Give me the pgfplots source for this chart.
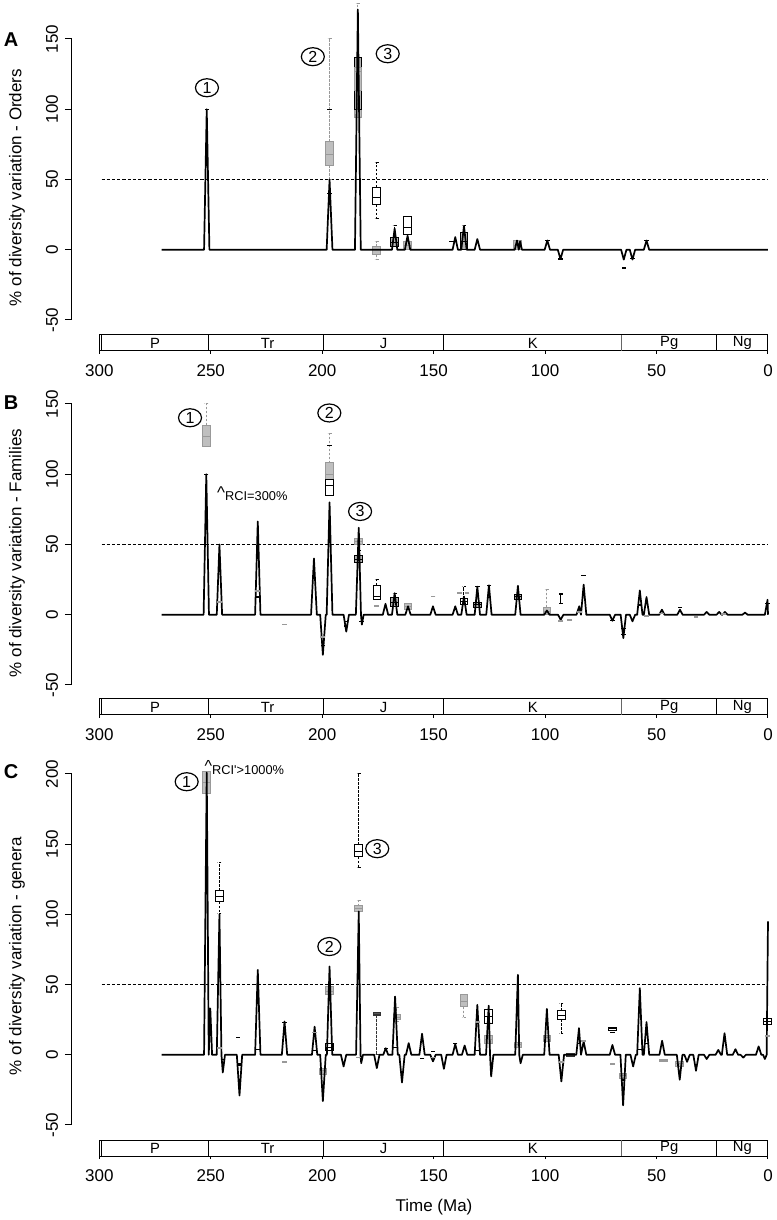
\documentclass[border=0pt]{standalone}
\usepackage{fontspec}
\setmainfont{Liberation Sans}
\usepackage{pgfplots}
\pgfplotsset{compat=1.18}
\usepgfplotslibrary{statistics}
\usetikzlibrary{shapes.geometric}

\newcommand\tk{\fontsize{8.5}{9.5}\selectfont}
\newcommand\ps{\fontsize{7.4}{8}\selectfont}
\newcommand\bx[7]{\addplot[#1, boxplot prepared={draw position=#2, lower whisker=#3, lower quartile=#4, median=#5, upper quartile=#6, upper whisker=#7}] coordinates {};}
\newcommand\cl[3]{\node[draw, ellipse, minimum width=11.5pt, minimum height=9pt, inner sep=0pt, line width=0.6pt, font=\fontsize{8}{8}\selectfont] at (axis cs:#1,#2) {#3};}
\newcommand\tsbar{%
 \draw[line width=0.5pt] (axis cs:299,0)--(axis cs:299,1);
 \draw[line width=0.5pt] (axis cs:251,0)--(axis cs:251,1);
 \draw[line width=0.5pt] (axis cs:199.6,0)--(axis cs:199.6,1);
 \draw[line width=0.5pt] (axis cs:145.5,0)--(axis cs:145.5,1);
 \draw[line width=0.5pt, black!60] (axis cs:65.5,0)--(axis cs:65.5,1);
 \draw[line width=0.5pt] (axis cs:23,0)--(axis cs:23,1);
 \node[font=\ps] at (axis cs:275,0.5) {P};
 \node[font=\ps] at (axis cs:224.5,0.5) {Tr};
 \node[font=\ps] at (axis cs:172.5,0.5) {J};
 \node[font=\ps] at (axis cs:105.5,0.5) {K};
 \node[font=\ps] at (axis cs:44.3,0.5) {Pg};
 \node[font=\ps] at (axis cs:11.5,0.5) {Ng};
}

\pgfplotsset{
 boxbase/.style={line width=0.5pt, boxplot/draw direction=y, boxplot/box extend=3.4, boxplot/whisker extend=1.8,
   boxplot/every whisker/.style={dash pattern=on 1.2pt off 0.8pt}},
 gbox/.style={boxbase, draw=black!40, fill=black!25},
 wbox/.style={boxbase, draw=black, fill=white},
 dbox/.style={boxbase, draw=black, fill=black!30},
 kbox/.style={boxbase, draw=black!80, fill=black!65},
 mainax/.style={scale only axis, width=348pt, xmin=0, xmax=312.25, x dir=reverse,
   hide x axis, axis y line*=left, clip=false, tick align=outside, major tick length=3.5pt,
   yticklabel style={rotate=90, anchor=south, font=\tk},
   /pgf/number format/assume math mode=true,
   axis line style={line width=0.5pt}, tick style={black, line width=0.5pt}, anchor=south west},
 tsax/.style={scale only axis, width=334.35pt, height=8pt, xmin=0, xmax=300, x dir=reverse,
   ymin=0, ymax=1, ytick=\empty, xtick={0,50,...,300}, xtick pos=left, tick align=outside,
   major tick length=1.5pt, xticklabel style={font=\tk, yshift=-1.6pt},
   /pgf/number format/assume math mode=true,
   axis line style={line width=0.5pt}, tick style={black, line width=0.5pt}, clip=false, anchor=south west},
 spk/.style={black, line width=0.85pt, line join=round},
 thr/.style={black, line width=0.6pt, dash pattern=on 1.6pt off 1pt},
 bm/.style={only marks, mark=-, mark size=1.1pt, mark options={black, line width=0.6pt}},
 gm/.style={only marks, mark=-, mark size=1.2pt, mark options={black!40, line width=0.8pt}},
}

\begin{document}
\begin{tikzpicture}
\path[use as bounding box] (0,0) rectangle (388pt,610pt);

% ---------------- Panel A ----------------
\begin{axis}[mainax, at={(36pt,450pt)}, height=140.5pt, ymin=-50, ymax=150, ytick={-50,0,50,100,150}]
\addplot[thr] coordinates {(299,50) (0,50)};
\bx{gbox}{196.7}{50}{60}{68}{77}{150}
\bx{gbox}{184}{94}{94}{113}{130}{175}
\bx{dbox}{184}{100}{100}{113}{137}{137}
\bx{gbox}{184}{100}{113}{127}{130}{130}
\bx{wbox}{175.6}{22}{32}{37}{44.4}{62}
\bx{gbox}{175.6}{-6.6}{-3.6}{0}{2.3}{6}
\bx{dbox}{167.5}{2}{2}{5}{8.5}{17.6}
\bx{gbox}{161.7}{0}{0}{3}{5.7}{5.7}
\bx{wbox}{161.7}{10.7}{10.7}{16}{23.7}{23.7}
\bx{dbox}{136.4}{0}{0}{6}{12.3}{17}
\bx{gbox}{112.4}{0}{0}{3}{6.6}{6.6}
\addplot[spk] coordinates {
(272,0)(253,0)(251.8,100)(250.6,0)
(198,0)(196.7,50)(195.4,0)
(185.3,0)(184,171)(182.7,0)
(168.7,0)(167.5,15)(166.3,0)
(162.9,0)(161.7,10)(160.5,0)
(141.5,0)(140.3,9)(139.1,0)
(137.6,0)(136.4,17)(135.2,0)
(131.6,0)(130.4,7.6)(129.2,0)
(113.6,0)(112.6,6.6)(111.8,0)(111.2,6)(110.4,0)
(100.2,0)(99,6.6)(97.8,0)
(94.3,0)(93.1,-6.6)(91.9,0)
(65.9,0)(64.7,-7)(63.5,0)
(62,0)(60.8,-7)(59.6,0)
(55.7,0)(54.5,6.6)(53.3,0)
(0,0)};
\addplot[bm] coordinates {(251.8,100)(196.7,100)(196.7,40)(140.3,6)(99,6.6)(93.1,-6.6)(64.7,-13)(60.8,-6)(54.5,6.6)(142,6)};
\cl{251.7}{115.3}{1}
\cl{204.2}{137.4}{2}
\cl{170.6}{139.5}{3}
\end{axis}
\begin{axis}[tsax, at={(49.65pt,434.5pt)}]
\tsbar
\end{axis}

% ---------------- Panel B ----------------
\begin{axis}[mainax, at={(36pt,267.5pt)}, height=140.5pt, ymin=-50, ymax=150, ytick={-50,0,50,100,150}]
\addplot[thr] coordinates {(299,50) (0,50)};
\bx{gbox}{252}{120}{120}{127}{135}{150.5}
\bx{gbox}{196.7}{96}{96}{100}{108}{129}
\bx{wbox}{196.7}{85}{85}{92}{96}{96}
\bx{gbox}{183.6}{50}{50}{52}{54}{54}
\bx{dbox}{183.6}{37}{37}{39.5}{42}{42}
\bx{wbox}{175.5}{11}{11}{13}{21}{25}
\bx{dbox}{167.5}{6}{6}{9}{12}{15.4}
\bx{gbox}{161.5}{4}{4}{6}{8.3}{8.3}
\bx{wbox}{136.4}{7.6}{7.6}{9.5}{11.4}{20}
\bx{dbox}{130.4}{4.8}{4.8}{7}{9}{9}
\bx{dbox}{112.2}{10.7}{10.7}{12.7}{14.7}{14.7}
\bx{gbox}{99.2}{0}{0}{2.6}{5.2}{18.3}
\addplot[black, line width=0.5pt] coordinates {(93,7.8)(93,14.7)};
\addplot[spk] coordinates {
(272,0)
(253.2,0)(252,100)(250.8,0)
(247.3,0)(246.1,50)(244.9,0)
(230.1,0)(228.9,66.4)(227.7,0)
(205,0)(203.7,40)(202.4,0)
(200.9,0)(199.7,-28.5)(198.4,0)(198,0)(196.7,80)(195.4,0)
(190.4,0)(189.2,-12)(188,0)
(184.9,0)(183.6,62)(182.6,0)(182.2,-7)(181.4,0)
(172.8,0)(171.6,7.8)(170.4,0)
(168.7,0)(167.5,15.4)(166.3,0)
(162.7,0)(161.5,6)(160.3,0)
(151.5,0)(150.3,6)(149.1,0)
(141.5,0)(140.3,6)(139.1,0)
(137.6,0)(136.4,13)(135.2,0)
(131.6,0)(130.4,20)(129.2,0)
(126.4,0)(125.2,21)(124,0)
(113.4,0)(112.2,20.6)(111,0)
(100.4,0)(99.2,3)(98,0)
(94.2,0)(93,-3.6)(91.8,0)
(85.9,0)(84.7,6)(83.9,0)(82.7,21.4)(81.5,0)
(71,0)(69.8,-4.3)(68.6,0)
(66.1,0)(64.9,-16.6)(63.7,0)
(62,0)(60.8,-4.7)(59.6,0)
(58.7,0)(57.5,17.3)(56.3,0)
(55.7,0)(54.5,12.6)(53.3,0)
(48.8,0)(47.6,3.6)(46.4,0)
(40.7,0)(39.5,3.6)(38.3,0)
(28.7,0)(27.5,2)(26.3,0)
(23.1,0)(21.9,2)(20.7,0)(20.5,0)(19.3,2)(18.1,0)
(11.5,0)(10.3,1.5)(9.1,0)
(1.4,0)(0.2,10.7)(0,0)};
\addplot[bm] coordinates {(252,100)(228.9,12.6)(199.7,-22)(189.2,-5)(189.2,-8)(182.3,-5)(150.3,13)(125.2,12)(82.7,28)(69.8,-4.3)(64.9,-10)(64.9,-14)(57.5,7)(39.5,5)(0.2,8)(196.7,120.5)(93,7.8)(93,14.7)(130.4,20)(125.2,21)(183.6,46)};
\addplot[gm] coordinates {(246.1,9)(228.9,17)(216.9,-7)(199.7,-16)(175.5,6.4)(93,-4.3)(89,-3.6)(54.5,-1)(32.3,-1.6)(84.7,2)(138.5,15.4)(135,15.4)(47.6,1)(20,0.5)(150.3,13)};
\cl{259.3}{140.2}{1}
\cl{196.8}{143.6}{2}
\cl{183}{73.5}{3}
\node[anchor=base west, inner sep=0pt] at (axis cs:247.3,83) {\fontsize{8.5}{9}\selectfont\textasciicircum\raisebox{-1.3pt}{\fontsize{6.4}{7}\selectfont RCI=300\%}};
\end{axis}
\begin{axis}[tsax, at={(49.65pt,252.5pt)}]
\tsbar
\end{axis}

% ---------------- Panel C ----------------
\begin{axis}[mainax, at={(36pt,47.5pt)}, height=175.5pt, ymin=-50, ymax=200, ytick={-50,0,50,100,150,200}]
\addplot[thr] coordinates {(299,50) (0,50)};
\bx{gbox}{251.8}{186}{186}{194}{201.6}{201.6}
\bx{wbox}{246.1}{100.8}{109}{113}{117}{137}
\bx{gbox}{199.7}{-14}{-14}{-11.5}{-9.5}{-9.5}
\bx{gbox}{196.7}{42.7}{42.7}{45}{48.6}{48.6}
\bx{wbox}{196.7}{3}{3}{5}{7.8}{7.8}
\bx{wbox}{183.6}{133.6}{141}{145}{149.5}{200}
\bx{gbox}{183.6}{102}{102}{104}{106}{109.6}
\bx{kbox}{175.5}{0}{28}{29}{30}{30}
\bx{gbox}{166.5}{23.7}{25}{26.5}{28.5}{34}
\bx{gbox}{136.4}{26.5}{34.4}{38}{42.7}{42.7}
\bx{wbox}{125.3}{22.5}{22.5}{27}{32.5}{32.5}
\bx{gbox}{125.3}{8.3}{8.3}{11}{13.5}{13.5}
\bx{gbox}{112.2}{5.5}{5.5}{7}{9}{9}
\bx{gbox}{99.2}{9.5}{9.5}{12}{14}{14}
\bx{wbox}{92.7}{15.4}{25.4}{28}{31.3}{36.3}
\bx{kbox}{88.7}{-1}{-1}{0}{1}{1}
\bx{wbox}{69.8}{17.3}{17.3}{18.5}{19.7}{19.7}
\bx{gbox}{65}{-17}{-17}{-15}{-13}{-13}
\bx{gbox}{39.6}{-8}{-8}{-6.5}{-5}{-5}
\bx{gbox}{47}{-5}{-5}{-4}{-3}{-3}
\bx{wbox}{0.3}{21.4}{21.4}{23.5}{25.6}{25.6}
\addplot[spk] coordinates {
(272,0)
(253,0)(251.8,201)(250.9,0)(250.2,33)(249.4,0)
(247.3,0)(246.1,100)(245.2,0)(244.6,-12.6)(243.6,0)
(238.3,0)(237.1,-29)(235.9,0)
(230.1,0)(228.9,60.5)(227.7,0)
(218.1,0)(216.9,23.7)(215.7,0)
(204.6,0)(203.4,20)(202.2,0)
(200.9,0)(199.7,-33)(198.4,0)(197.9,0)(196.7,62.9)(195.5,0)
(191.6,0)(190.4,-8.3)(189.2,0)
(184.8,0)(183.6,102)(182.8,0)(182.5,-6)(181.7,0)
(176.7,0)(175.5,-9.5)(174.3,0)
(172.6,0)(171.5,4.7)(170.4,0)
(168.5,0)(167.3,41.5)(166.1,0)
(165.4,0)(164.2,-19.7)(163,0)
(162.4,0)(161.2,8.3)(160,0)
(156.4,0)(155.2,15)(154,0)
(151.5,0)(150.3,-4.7)(149.1,0)
(146.6,0)(145.4,-10)(144.2,0)
(141.5,0)(140.3,7.6)(139.1,0)
(137.3,0)(136.1,6.6)(134.9,0)
(131.6,0)(130.4,35.6)(129.2,0)
(126.5,0)(125.3,35)(124.7,0)(124.2,-15.4)(123.2,0)
(113.4,0)(112.2,57)(111.6,0)(111,-6)(110,0)
(100.4,0)(99.2,32.7)(98,0)
(93.9,0)(92.7,-19)(91.5,0)
(86,0)(84.8,19)(83.9,0)(82.7,9.5)(81.5,0)
(71,0)(69.8,7)(68.6,0)
(66.2,0)(65,-36)(63.8,0)
(61.7,0)(60.5,-8.3)(59.3,0)
(58.7,0)(57.5,47.5)(56.3,0)
(55.7,0)(54.5,23.3)(53.3,0)
(48.7,0)(47.5,10)(46.3,0)
(40.9,0)(39.6,-17.8)(38.4,0)
(37.5,0)(36.3,-5)(35.1,0)
(33.5,0)(32.3,-11.4)(31.1,0)
(28.7,0)(27.5,-3)(26.3,0)
(23.5,0)(22.3,3.5)(21.1,0)
(20.7,0)(19.5,15.4)(18.3,0)
(15.8,0)(14.6,4)(13.4,0)
(12.3,0)(11.1,-2)(9.9,0)
(5.4,0)(4.2,6)(3,0)
(2.2,0)(1.4,-3)(0.6,0)(0,95)};
\addplot[bm] coordinates {(237.9,12.6)(237.1,-6.6)(237.1,-7.8)(228.9,3.6)(216.9,23)(203.4,3)(167.3,5)(155.2,-2.4)(150.3,2.4)(140.3,8)(130.4,3)(84.8,8)(69.8,15.9)(65,-18)(244.6,-3.6)(171.5,4.7)(57.5,4)(54.5,8)(246.1,4.7)};
\addplot[gm] coordinates {(203.4,16)(216.9,-5.2)(130.4,23.5)(92.7,-5)(82.7,10)(69.8,-6.4)(0.2,13.5)(150.3,-2)(183.6,-2)(246.1,4.7)};
\cl{260.8}{194.5}{1}
\cl{196.8}{77.1}{2}
\cl{175.3}{146.8}{3}
\node[anchor=base west, inner sep=0pt] at (axis cs:252.9,201.6) {\fontsize{8}{9}\selectfont\textasciicircum\raisebox{-1.2pt}{\fontsize{6.4}{7}\selectfont RCI\textquotesingle>1000\%}};
\end{axis}
\begin{axis}[tsax, at={(49.65pt,32pt)}]
\tsbar
\end{axis}

% labels
\node[rotate=90, font=\tk] at (8.5pt,516.25pt) {\% of diversity variation - Orders};
\node[rotate=90, font=\tk] at (8.5pt,333.5pt) {\% of diversity variation - Families};
\node[rotate=90, font=\tk] at (8.5pt,132pt) {\% of diversity variation - genera};
\node[font=\fontsize{10}{11}\selectfont\bfseries] at (5.5pt,590pt) {A};
\node[font=\fontsize{10}{11}\selectfont\bfseries] at (5.5pt,408.5pt) {B};
\node[font=\fontsize{10}{11}\selectfont\bfseries] at (5.5pt,224pt) {C};
\node[font=\tk] at (217pt,6.5pt) {Time (Ma)};
\end{tikzpicture}
\end{document}
